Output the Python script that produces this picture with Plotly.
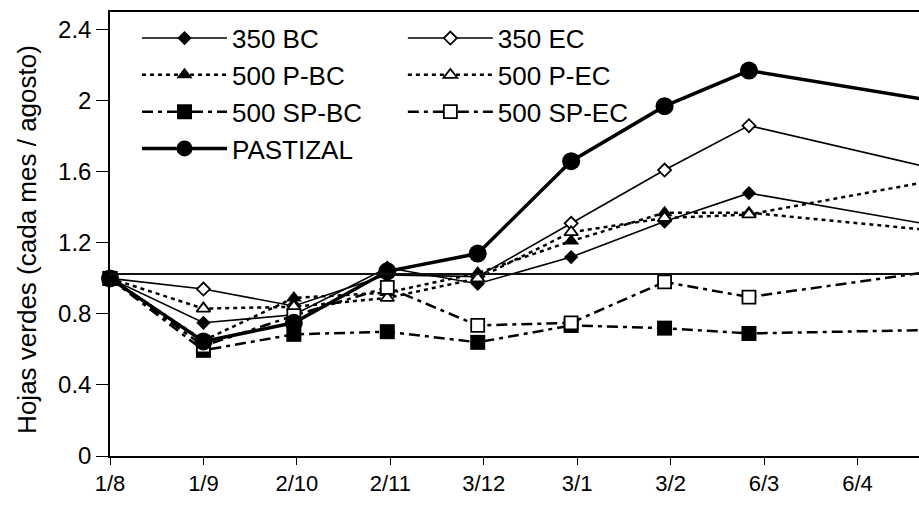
import plotly.graph_objects as go

# Sampling dates (first of each month) and axis tick dates (every 31 days from 1 Aug)
sample_dates = ["2006-08-01", "2006-09-01", "2006-10-01", "2006-11-01", "2006-12-01",
                "2007-01-01", "2007-02-01", "2007-03-01", "2007-05-01"]
tick_dates = ["2006-08-01", "2006-09-01", "2006-10-02", "2006-11-02", "2006-12-03",
              "2007-01-03", "2007-02-03", "2007-03-06", "2007-04-06"]
tick_labels = ["1/8", "1/9", "2/10", "2/11", "3/12", "3/1", "3/2", "6/3", "6/4"]

# Green leaves relative to August, per treatment
bc_350 = [1.0, 0.75, 0.795, 1.06, 0.97, 1.12, 1.32, 1.48, 1.30]
ec_350 = [1.0, 0.94, 0.845, 1.02, 1.01, 1.31, 1.61, 1.86, 1.62]
p_bc_500 = [1.0, 0.65, 0.89, 0.92, 1.03, 1.21, 1.37, 1.37, 1.27]
p_ec_500 = [1.0, 0.83, 0.84, 0.89, 1.00, 1.26, 1.34, 1.36, 1.55]
sp_bc_500 = [1.0, 0.595, 0.685, 0.70, 0.64, 0.735, 0.72, 0.69, 0.71]
sp_ec_500 = [1.0, 0.62, 0.79, 0.95, 0.735, 0.75, 0.98, 0.895, 1.04]
pastizal = [1.0, 0.645, 0.75, 1.04, 1.14, 1.66, 1.97, 2.17, 2.0]

reference_level = 1.025
y_ticks = [0, 0.4, 0.8, 1.2, 1.6, 2.0, 2.4]
y_tick_labels = ["0", "0.4", "0.8", "1.2", "1.6", "2", "2.4"]
y_title = "Hojas verdes (cada mes / agosto)"

FONT = "Liberation Sans, Arial, sans-serif"
BLACK = "#000000"

series = [
    # name, values, dash, line width, symbol, marker size, legend
    ("350 BC", bc_350, "solid", 1.6, "diamond", 11, "legend"),
    ("350 EC", ec_350, "solid", 1.6, "diamond-open", 10, "legend2"),
    ("500 P-BC", p_bc_500, "4px,4px", 2.5, "triangle-up", 14, "legend"),
    ("500 P-EC", p_ec_500, "4px,4px", 2.5, "triangle-up-open", 12, "legend2"),
    ("500 SP-BC", sp_bc_500, "11px,5px,4px,5px", 2.5, "square", 15, "legend"),
    ("500 SP-EC", sp_ec_500, "11px,5px,4px,5px", 2.5, "square-open", 13, "legend2"),
    ("PASTIZAL", pastizal, "solid", 3.5, "circle", 18, "legend"),
]

fig = go.Figure()
for name, values, dash, lw, symbol, msize, legend in series:
    is_open = symbol.endswith("-open")
    fig.add_trace(go.Scatter(
        x=sample_dates, y=values, name=name, mode="lines+markers",
        line=dict(color=BLACK, width=lw, dash=dash),
        marker=dict(symbol=symbol.replace("-open", ""), size=msize,
                    color="white" if is_open else BLACK,
                    line=dict(color=BLACK, width=1.8 if is_open else 0)),
        cliponaxis=False, legend=legend, legendgroup=name,
    ))

# Horizontal reference line across the plot
fig.add_shape(type="line", xref="paper", x0=0, x1=1, yref="y",
              y0=reference_level, y1=reference_level,
              line=dict(color="#111111", width=2))

# Vertical axis title
fig.add_annotation(text=y_title, textangle=-90, xref="paper", yref="paper",
                   x=-0.1026, y=0.489, xanchor="center", yanchor="middle",
                   showarrow=False, font=dict(family=FONT, size=26, color=BLACK))

legend_common = dict(
    bgcolor="rgba(0,0,0,0)", borderwidth=0, font=dict(family=FONT, size=26, color=BLACK),
    itemwidth=85, itemclick=False, traceorder="normal", tracegroupgap=1,
    xanchor="left", yanchor="top", orientation="v",
)

fig.update_layout(
    width=919, height=506,
    margin=dict(l=110, r=0, t=12, b=50),
    paper_bgcolor="white", plot_bgcolor="white",
    font=dict(family=FONT, color=BLACK),
    showlegend=True,
    legend=dict(x=0.0334, y=0.994, **legend_common),
    legend2=dict(x=0.362, y=0.994, **legend_common),
    xaxis=dict(
        type="date", range=["2006-08-01", "2007-04-26 10:00"],
        tickmode="array", tickvals=tick_dates, ticktext=tick_labels,
        ticks="outside", ticklen=7, tickwidth=1, tickcolor=BLACK,
        showline=True, linecolor=BLACK, linewidth=1.5, mirror=True,
        showgrid=False, zeroline=False,
        tickfont=dict(family=FONT, size=22, color=BLACK),
    ),
    yaxis=dict(
        range=[0, 2.5], tickmode="array", tickvals=y_ticks, ticktext=y_tick_labels,
        ticks="outside", ticklen=12, tickwidth=1, tickcolor=BLACK,
        showline=True, linecolor=BLACK, linewidth=1.5,
        showgrid=False, zeroline=False,
        tickfont=dict(family=FONT, size=24, color=BLACK),
        automargin=False,
    ),
)

fig.write_html("out.html")
